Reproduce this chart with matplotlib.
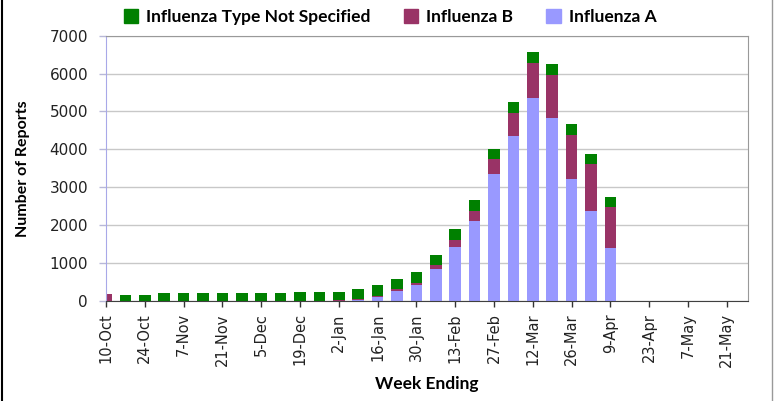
import numpy as np
import matplotlib
matplotlib.use("Agg")
import matplotlib.pyplot as plt
from matplotlib.patches import Patch
from matplotlib.lines import Line2D

# week ending labels (every other week is labelled)
tick_labels = ['10-Oct', '24-Oct', '7-Nov', '21-Nov', '5-Dec', '19-Dec', '2-Jan', '16-Jan',
               '30-Jan', '13-Feb', '27-Feb', '12-Mar', '26-Mar', '9-Apr', '23-Apr', '7-May', '21-May']

# reports per week, starting 10-Oct
flu_a = [0, 0, 0, 0, 0, 0, 0, 0, 0, 0, 0, 0, 5, 20, 90, 255, 410,
         841, 1407, 2111, 3347, 4352, 5349, 4821, 3215, 2376, 1381]
flu_b = [175, 5, 5, 5, 5, 5, 5, 5, 5, 5, 5, 5, 10, 30, 35, 50, 70,
         98, 202, 265, 388, 617, 934, 1154, 1156, 1236, 1093]
not_specified = [0, 160, 160, 200, 200, 195, 195, 195, 200, 200, 235, 235, 225, 260, 290, 275, 270,
                 273, 274, 274, 281, 282, 283, 282, 291, 272, 273]

c_a = '#9999ff'
c_b = '#993366'
c_ns = '#008000'

fig = plt.figure(figsize=(7.8, 4.01), dpi=100)
ax = fig.add_axes([0.136, 0.25, 0.823, 0.661])

x = np.arange(len(flu_a))
a = np.array(flu_a)
b = np.array(flu_b)
ns = np.array(not_specified)
w = 0.6
ax.bar(x, a, w, color=c_a, zorder=2)
ax.bar(x, b, w, bottom=a, color=c_b, zorder=2)
ax.bar(x, ns, w, bottom=a + b, color=c_ns, zorder=2)

ax.set_xlim(0, 33.1)
ax.set_ylim(0, 7000)
ax.set_yticks(range(0, 7001, 1000))
ax.set_xticks(np.arange(0, 2 * len(tick_labels), 2))
ax.set_xticklabels(tick_labels, rotation=90, fontsize=10.5, color='#222222')
ax.tick_params(axis='x', length=4, width=1, color='#333333', pad=5)
ax.tick_params(axis='y', length=5, width=1, color='#b8b8d8', labelsize=11, labelcolor='#222222', pad=8)

ax.grid(axis='y', color='#c8c8c8', linewidth=1, zorder=0)
ax.set_axisbelow(True)
for side in ['top', 'right']:
    ax.spines[side].set_color('#999999')
ax.spines['left'].set_color('#a8a8e8')
ax.spines['bottom'].set_color('#404040')

ax.set_ylabel('Number of Reports', fontfamily='Lato', fontweight='bold', fontsize=11.5, labelpad=14)
ax.set_xlabel('Week Ending', fontfamily='Lato', fontweight='bold', fontsize=12.5, labelpad=6)

handles = [Patch(color=c_ns, label='Influenza Type Not Specified'),
           Patch(color=c_b, label='Influenza B'),
           Patch(color=c_a, label='Influenza A')]
fig.legend(handles=handles, loc='center', bbox_to_anchor=(0.5, 0.958), ncol=3, frameon=False,
           prop={'family': 'Lato', 'weight': 'bold', 'size': 12.5},
           handlelength=0.85, handleheight=0.85, handletextpad=0.45, columnspacing=1.9)

# chart frame
fig.add_artist(Line2D([0.002, 0.002], [0, 1], transform=fig.transFigure, color='black', lw=1.5))
fig.add_artist(Line2D([0.99, 0.99], [0, 1], transform=fig.transFigure, color='#999999', lw=1))

plt.savefig('out.png', dpi=100)
